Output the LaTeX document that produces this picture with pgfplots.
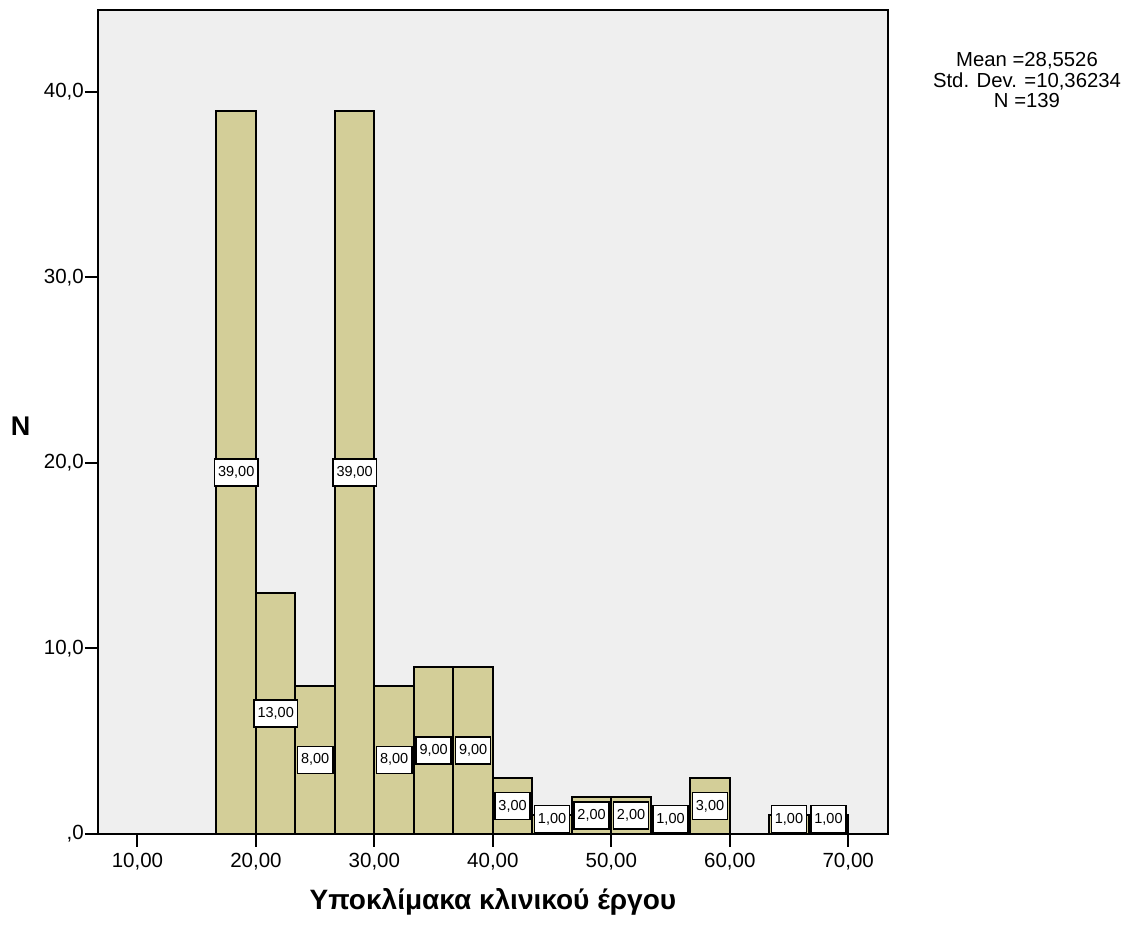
\documentclass[border=0pt]{standalone}
\usepackage{fontspec}
\setmainfont{Liberation Sans}
\usepackage{pgfplots}
\usepackage{pgfplotstable}
\pgfplotsset{compat=1.18}
\definecolor{bgcol}{HTML}{EFEFEF}
\definecolor{barcol}{HTML}{D3CE98}
\pgfplotstableread{
x y
16.6667 39
20 13
23.3333 8
26.6667 39
30 8
33.3333 9
36.6667 9
40 3
43.3333 1
46.6667 2
50 2
53.3333 1
56.6667 3
60 0
63.3333 1
66.6667 1
70 0
}\bins
\pgfplotstableread{
x y label
18.3333 19.5 39,00
21.6667 6.5 13,00
25 4 8,00
28.3333 19.5 39,00
31.6667 4 8,00
35 4.5 9,00
38.3333 4.5 9,00
41.6667 1.5 3,00
45 0.8 1,00
48.3333 1.0 2,00
51.6667 1.0 2,00
55 0.8 1,00
58.3333 1.5 3,00
65 0.8 1,00
68.3333 0.8 1,00
}\labels
\begin{document}
\begin{tikzpicture}[x=1pt,y=1pt]
\path[use as bounding box] (0,0) rectangle (1128,925);
\begin{axis}[
  at={(98pt,91pt)}, anchor=south west,
  scale only axis, width=789.7pt, height=824pt,
  xmin=6.6667, xmax=73.3333, ymin=0, ymax=44.42,
  axis background/.style={fill=bgcol},
  axis line style={line width=2pt},
  tick pos=left, tick align=outside, major tick length=13pt,
  tick style={line width=2pt, black},
  xtick={10,20,30,40,50,60,70},
  xticklabels={{10,00},{20,00},{30,00},{40,00},{50,00},{60,00},{70,00}},
  ytick={0,10,20,30,40},
  yticklabels={{,0},{10,0},{20,0},{30,0},{40,0}},
  tick label style={font=\fontsize{20.5}{22}\selectfont},
  yticklabel style={inner xsep=1pt},
  xticklabel style={yshift=-3pt},
  every axis x label/.style={at={(axis description cs:0.5,0)}, anchor=base, yshift=-76pt, font=\bfseries\fontsize{28}{30}\selectfont},
  every axis y label/.style={at={(axis description cs:0,0.483)}, anchor=base, xshift=-77.5pt, font=\bfseries\fontsize{27}{29}\selectfont},
  xlabel={Υποκλίμακα κλινικού έργου},
  ylabel={N},
]
\addplot[ybar interval, fill=barcol, draw=black, line width=2pt] table[x=x,y=y]{\bins};
\addplot[draw=none, mark=none, nodes near coords, point meta=explicit symbolic,
  nodes near coords align={anchor=center},
  every node near coord/.append style={anchor=center, fill=white, draw=black, line width=1.5pt,
    font=\fontsize{14.5}{14.5}\selectfont, inner xsep=3.5pt, inner ysep=0pt, minimum height=27pt}]
  table[x=x, y=y, meta=label]{\labels};
\end{axis}
\node[anchor=base, font=\fontsize{20.3}{22}\selectfont] at (1027,858) {Mean =28,5526};
\node[anchor=base, font=\fontsize{20.3}{22}\selectfont] at (1027,837.5) {Std. Dev. =10,36234};
\node[anchor=base, font=\fontsize{20.3}{22}\selectfont] at (1027,817) {N =139};
\end{tikzpicture}
\end{document}
